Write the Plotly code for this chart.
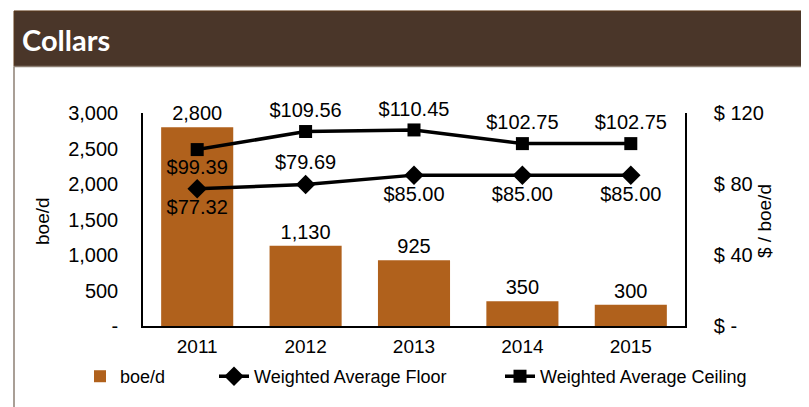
import plotly.graph_objects as go

# data
years = ['2011', '2012', '2013', '2014', '2015']
boe_d = [2800, 1130, 925, 350, 300]
floor_price = [77.32, 79.69, 85.00, 85.00, 85.00]
ceiling_price = [99.39, 109.56, 110.45, 102.75, 102.75]

left_ticks = [0, 500, 1000, 1500, 2000, 2500, 3000]
left_text = ['-', '500', '1,000', '1,500', '2,000', '2,500', '3,000']
right_ticks = [0, 40, 80, 120]
right_text = ['$ -', '$ 40', '$ 80', '$ 120']

floor_pos = ['bottom center', 'top center', 'bottom center', 'bottom center', 'bottom center']
ceiling_pos = ['bottom center', 'top center', 'top center', 'top center', 'top center']

bar_color = '#b0611c'
header_color = '#4a3629'
font = 'Liberation Sans, Arial, sans-serif'

# page body adds an 8px margin, so work in screenshot pixels and shift
OFF = 8
W, H = 809 - OFF, 407 - OFF
L, R, T, B = 143, 685, 113, 328  # plot area in screenshot pixels


def px(x):
    return (x - L) / (R - L)


def py(y):
    return (B - y) / (B - T)


fig = go.Figure()
fig.add_trace(go.Bar(
    x=years, y=boe_d, name='boe/d', marker_color=bar_color, marker_line_width=0,
    text=[f'{v:,}' for v in boe_d], textposition='outside',
    textfont=dict(size=20, color='black'), cliponaxis=False, legend='legend',
))
fig.add_trace(go.Scatter(
    x=years, y=floor_price, yaxis='y2', name='Weighted Average Floor',
    mode='lines+markers+text', line=dict(color='black', width=3.5),
    marker=dict(symbol='diamond', size=15, color='black'),
    text=[f'${v:.2f}' for v in floor_price], textposition=floor_pos,
    textfont=dict(size=20, color='black'), cliponaxis=False, legend='legend2',
))
fig.add_trace(go.Scatter(
    x=years, y=ceiling_price, yaxis='y2', name='Weighted Average Ceiling',
    mode='lines+markers+text', line=dict(color='black', width=3.5),
    marker=dict(symbol='square', size=13, color='black'),
    text=[f'${v:.2f}' for v in ceiling_price], textposition=ceiling_pos,
    textfont=dict(size=20, color='black'), cliponaxis=False, legend='legend3',
))

leg = dict(orientation='h', xanchor='left', y=py(379), yanchor='middle',
           font=dict(size=18, color='black'), bgcolor='rgba(0,0,0,0)', borderwidth=0)

fig.update_layout(
    width=W, height=H,
    margin=dict(l=L - OFF, r=W - (R - OFF), t=T - OFF, b=H - (B - OFF), pad=0),
    paper_bgcolor='white', plot_bgcolor='white',
    font=dict(family=font, size=20, color='black'),
    bargap=0.335,
    showlegend=True,
    legend=dict(leg, x=px(80)),
    legend2=dict(leg, x=px(214)),
    legend3=dict(leg, x=px(500)),
    xaxis=dict(showline=True, linecolor='black', linewidth=1.5, ticks='',
               tickfont=dict(size=19), showgrid=False, ticklabelstandoff=2),
    yaxis=dict(range=[0, 3000], tickvals=left_ticks, ticktext=left_text,
               showline=True, linecolor='black', linewidth=1.5, showgrid=False,
               zeroline=False, ticks='', ticklabelstandoff=19, tickfont=dict(size=20)),
    yaxis2=dict(range=[0, 120], tickvals=right_ticks, ticktext=right_text,
                overlaying='y', side='right', showline=True, linecolor='black',
                linewidth=1.5, showgrid=False, zeroline=False, ticks='',
                ticklabelstandoff=23, tickfont=dict(size=20)),
)

# header box and frame
fig.add_shape(type='rect', xref='paper', yref='paper', layer='below',
              x0=px(14), x1=px(806), y0=py(66), y1=py(10),
              fillcolor=header_color, line=dict(color='#5e3a1a', width=1))
fig.add_shape(type='line', xref='paper', yref='paper', x0=px(14), x1=px(14),
              y0=py(66), y1=py(415), line=dict(color='#8c7f73', width=1.5))
fig.add_shape(type='line', xref='paper', yref='paper', x0=px(806), x1=px(806),
              y0=py(66), y1=py(415), line=dict(color='#8c7f73', width=1.5))
fig.add_shape(type='line', xref='paper', yref='paper', x0=px(14), x1=px(806),
              y0=py(66), y1=py(66), line=dict(color='#8c7f73', width=1.5))

fig.add_annotation(text='<b>Collars</b>', xref='paper', yref='paper', x=px(20), y=py(39),
                   xanchor='left', yanchor='middle', showarrow=False,
                   font=dict(family='Lato, Open Sans, sans-serif', size=29, color='white'))
fig.add_annotation(text='boe/d', xref='paper', yref='paper', x=px(43), y=py(222),
                   xanchor='center', yanchor='middle',
                   textangle=-90, showarrow=False, font=dict(size=19))
fig.add_annotation(text='$ / boe/d', xref='paper', yref='paper', x=px(765), y=py(222),
                   xanchor='center', yanchor='middle',
                   textangle=-90, showarrow=False, font=dict(size=19))

fig.write_html('out.html')
